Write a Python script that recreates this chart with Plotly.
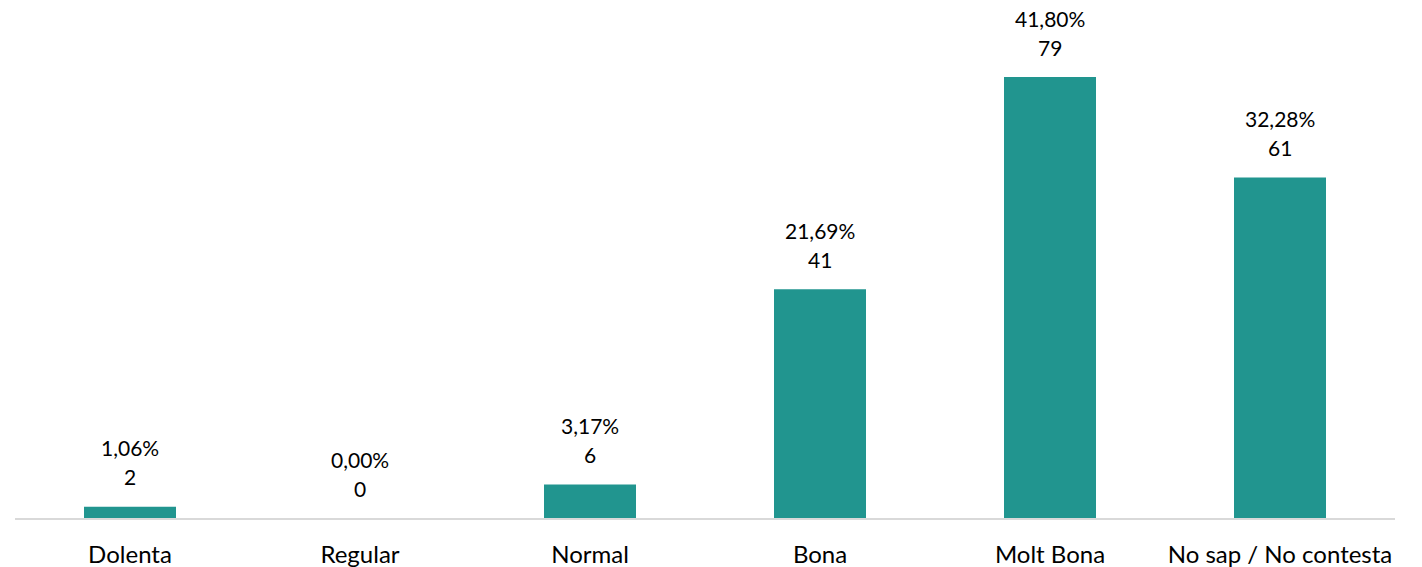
import plotly.graph_objects as go

categories = ["Dolenta", "Regular", "Normal", "Bona", "Molt Bona", "No sap / No contesta"]
counts = [2, 0, 6, 41, 79, 61]
percent_labels = ["1,06%", "0,00%", "3,17%", "21,69%", "41,80%", "32,28%"]

bar_color = "#21958F"
font_family = "Lato, 'Open Sans', sans-serif"

fig = go.Figure(
    go.Bar(
        x=categories,
        y=counts,
        marker=dict(color=bar_color, line=dict(width=0)),
        hoverinfo="skip",
    )
)

# Two-line value labels above each bar: percentage, then count
annotations = []
for cat, n, pct in zip(categories, counts, percent_labels):
    annotations.append(dict(x=cat, y=n, text=pct, showarrow=False,
                            yanchor="middle", yshift=59,
                            font=dict(family=font_family, size=21, color="#000000")))
    annotations.append(dict(x=cat, y=n, text=str(n), showarrow=False,
                            yanchor="middle", yshift=30,
                            font=dict(family=font_family, size=21, color="#000000")))

fig.update_layout(
    width=1422,
    height=567,
    margin=dict(l=15, r=27, t=0, b=49),
    paper_bgcolor="white",
    plot_bgcolor="white",
    bargap=0.6,
    showlegend=False,
    annotations=annotations,
    font=dict(family=font_family, size=21, color="#000000"),
    xaxis=dict(
        showline=True,
        linecolor="#d9d9d9",
        linewidth=1.5,
        showgrid=False,
        ticks="",
        ticklabelstandoff=14,
        tickfont=dict(family=font_family, size=24, color="#000000"),
        fixedrange=True,
    ),
    yaxis=dict(
        range=[0, 92.8],
        visible=False,
        showgrid=False,
        zeroline=False,
        fixedrange=True,
    ),
)

fig.write_html("out.html", config={"displayModeBar": False})
